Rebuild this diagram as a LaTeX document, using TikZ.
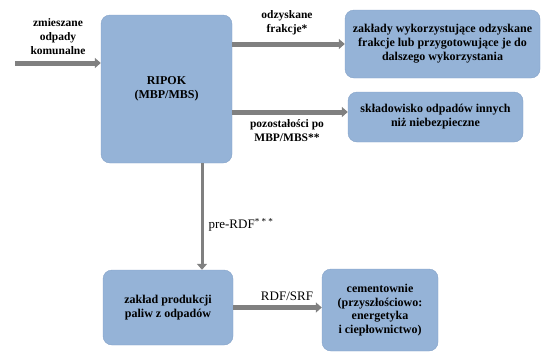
\documentclass[tikz,border=0pt]{standalone}
\usepackage{fontspec}
\setmainfont{Liberation Serif}
\usetikzlibrary{arrows.meta, positioning}

\definecolor{boxblue}{RGB}{149,179,215}
\definecolor{boxedge}{RGB}{132,162,200}
\definecolor{arrgray}{RGB}{128,128,128}

\begin{document}
\begin{tikzpicture}[x=1pt, y=-1pt]
		\tikzset {box/.style={draw=boxedge, fill=boxblue, rounded corners=9pt, align=center, inner sep=2pt, font=\fontsize{12}{14}\selectfont\bfseries},
			flow/.style={draw=arrgray, line width=5pt, -{Triangle[length=6pt, width=10pt]}},
			lbl/.style={align=center, font=\fontsize{11.5}{14}\selectfont\bfseries} }
		\useasboundingbox (0,0) rectangle (544,354);

		\node[box, minimum width=131pt, minimum height=148pt] (ripok) at (166.5,89) {RIPOK\\(MBP/MBS)};
		\node[box, minimum width=195pt, minimum height=68pt] (frac) at (442.5,44) {zakłady wykorzystujące odzyskane\\frakcje lub przygotowujące je do\\dalszego wykorzystania};
		\node[box, minimum width=175pt, minimum height=50pt] (skl) at (435.5,117) {składowisko odpadów innych\\niż niebezpieczne};
		\node[box, minimum width=130pt, minimum height=75pt] (zakl) at (168,307.5) {zakład produkcji\\paliw z odpadów};
		\node[box, minimum width=116pt, minimum height=82pt, font=\fontsize{12}{13.5}\selectfont\bfseries] (cem) at (380,310) {cementownie\\(przyszłościowo:\\energetyka\\i ciepłownictwo)};
		\coordinate (in) at (15,63);

		\node[lbl] (inlbl) at (58,37) {zmieszane\\odpady\\komunalne};
		\node[lbl] (fraclbl) at (287,23) {odzyskane\\frakcje*};
		\node[lbl] (restlbl) at (287,131) {pozostałości po\\MBP/MBS**};
		\node[lbl, font=\fontsize{13}{15}\selectfont, anchor=west] (prelbl) at (205,225) {pre-RDF\textsuperscript{* * *}};
		\node[lbl, font=\fontsize{13}{15}\selectfont] (rdflbl) at (287,296) {RDF/SRF};

		\draw[flow] (in) -- (in -| ripok.west);
		\draw[flow] (ripok.east |- frac.west) -- (frac.west);
		\draw[flow] ([yshift=5pt]ripok.east |- skl.west) -- ([yshift=5pt]skl.west);
		\draw[flow, line width=3pt] ([xshift=35.5pt]ripok.south) -- ([xshift=35.5pt]ripok.south |- zakl.north);
		\draw[flow] (zakl.east) -- (zakl.east -| cem.west);
	\end{tikzpicture}
\end{document}
